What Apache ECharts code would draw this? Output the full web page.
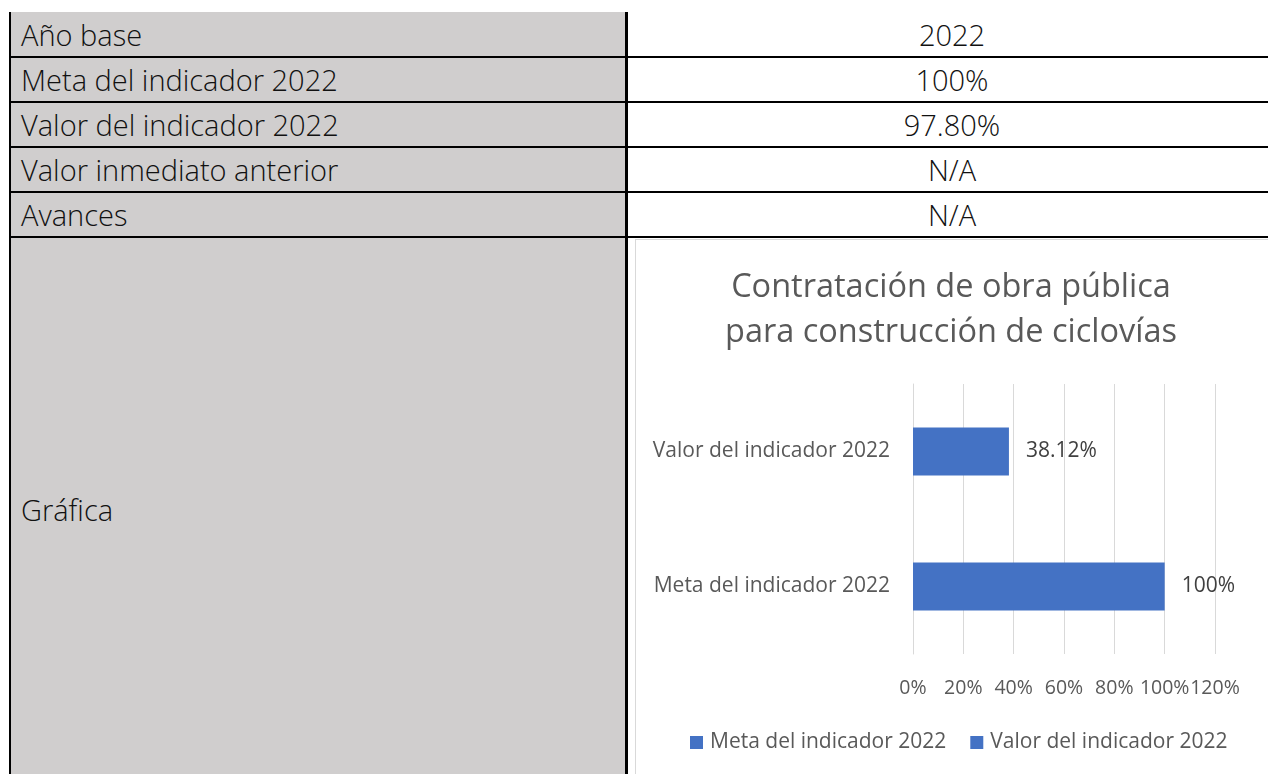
<!DOCTYPE html>
<html>
<head>
<meta charset="utf-8">
<script src="https://cdn.jsdelivr.net/npm/echarts@6/dist/echarts.min.js"></script>
<style>
  html, body { margin: 0; padding: 0; background: #ffffff; }
  body { width: 1268px; height: 774px; overflow: hidden; position: relative; font-family: "Open Sans", sans-serif; }
  .abs { position: absolute; }
  .leftbg { left: 10px; top: 12px; width: 616px; height: 762px; background: #D0CECE; }
  .vline { background: #000; }
  .hline { background: #000; height: 2px; left: 9px; width: 1259px; }
  .ltxt { left: 21px; font-weight: 300; font-size: 29px; color: #111; line-height: 45px; white-space: nowrap; }
  .rtxt { left: 628px; width: 648px; text-align: center; font-weight: 300; font-size: 29px; color: #111; line-height: 45px; white-space: nowrap; }
  #chartBox { left: 635px; top: 239px; width: 700px; height: 600px; border: 1px solid #D9D9D9; background: #fff; }
  #chart { left: 634px; top: 240px; width: 634px; height: 534px; }
</style>
</head>
<body>
<div id="table"></div>
<div id="chartBox" class="abs"></div>
<div id="chart" class="abs"></div>
<script>
// ---- Data ----
const rowLabels = ['Año base', 'Meta del indicador 2022', 'Valor del indicador 2022', 'Valor inmediato anterior', 'Avances'];
const rowValues = ['2022', '100%', '97.80%', 'N/A', 'N/A'];
const lastRowLabel = 'Gráfica';
const chartTitle = 'Contratación de obra pública\npara construcción de ciclovías';
const categories = ['Meta del indicador 2022', 'Valor del indicador 2022'];
const seriesNames = ['Meta del indicador 2022', 'Valor del indicador 2022'];
const metaValues = [100, '-'];
const valorValues = ['-', 38.12];

// ---- Table (HTML) ----
const t = document.getElementById('table');
const rowTop = 12, rowH = 45;
let html = '<div class="abs leftbg"></div>';
rowLabels.forEach((lab, i) => {
  const y = rowTop + i * rowH;
  html += `<div class="abs ltxt" style="top:${y}px">${lab}</div>`;
  html += `<div class="abs rtxt" style="top:${y}px">${rowValues[i]}</div>`;
  html += `<div class="abs hline" style="top:${y + rowH - 1}px"></div>`;
});
html += `<div class="abs ltxt" style="top:${510 - 23}px">${lastRowLabel}</div>`;
html += '<div class="abs vline" style="left:9px;top:12px;width:2px;height:762px"></div>';
html += '<div class="abs vline" style="left:625px;top:12px;width:3px;height:762px"></div>';
t.innerHTML = html;

// ---- Chart ----
const chart = echarts.init(document.getElementById('chart'), null, { renderer: 'canvas' });
const labelStyle = {
  show: true, position: 'right', distance: 17,
  color: '#404040', fontSize: 21, fontFamily: 'Open Sans',
  formatter: p => p.value + '%'
};
chart.setOption({
  animation: false,
  textStyle: { fontFamily: 'Open Sans' },
  title: {
    text: chartTitle, left: 'center', top: 20,
    textStyle: { fontSize: 32.5, fontWeight: 'normal', color: '#595959', lineHeight: 45, fontFamily: 'Open Sans' }
  },
  legend: {
    data: seriesNames, left: 51, top: 487, icon: 'rect', itemWidth: 13, itemHeight: 13, itemGap: 24,
    textStyle: { fontSize: 21, color: '#595959', fontFamily: 'Open Sans', padding: [0, 0, 0, 2] }
  },
  grid: { left: 279, right: 53, top: 144, bottom: 120, containLabel: false },
  xAxis: {
    type: 'value', min: 0, max: 120, interval: 20,
    axisLine: { show: false }, axisTick: { show: false },
    splitLine: { show: true, lineStyle: { color: '#D9D9D9', width: 1 } },
    axisLabel: { formatter: '{value}%', fontSize: 19.5, color: '#595959', margin: 24, fontFamily: 'Open Sans',
      showMaxLabel: true, showMinLabel: true, hideOverlap: false }
  },
  yAxis: {
    type: 'category', data: categories,
    axisLine: { show: true, lineStyle: { color: '#D9D9D9' } }, axisTick: { show: false },
    axisLabel: { fontSize: 21, color: '#595959', margin: 23, fontFamily: 'Open Sans' }
  },
  series: [
    { name: seriesNames[0], type: 'bar', stack: 'total', data: metaValues, barWidth: 48,
      itemStyle: { color: '#4472C4' }, label: labelStyle },
    { name: seriesNames[1], type: 'bar', stack: 'total', data: valorValues, barWidth: 48,
      itemStyle: { color: '#4472C4' }, label: labelStyle }
  ]
});
</script>
</body>
</html>
